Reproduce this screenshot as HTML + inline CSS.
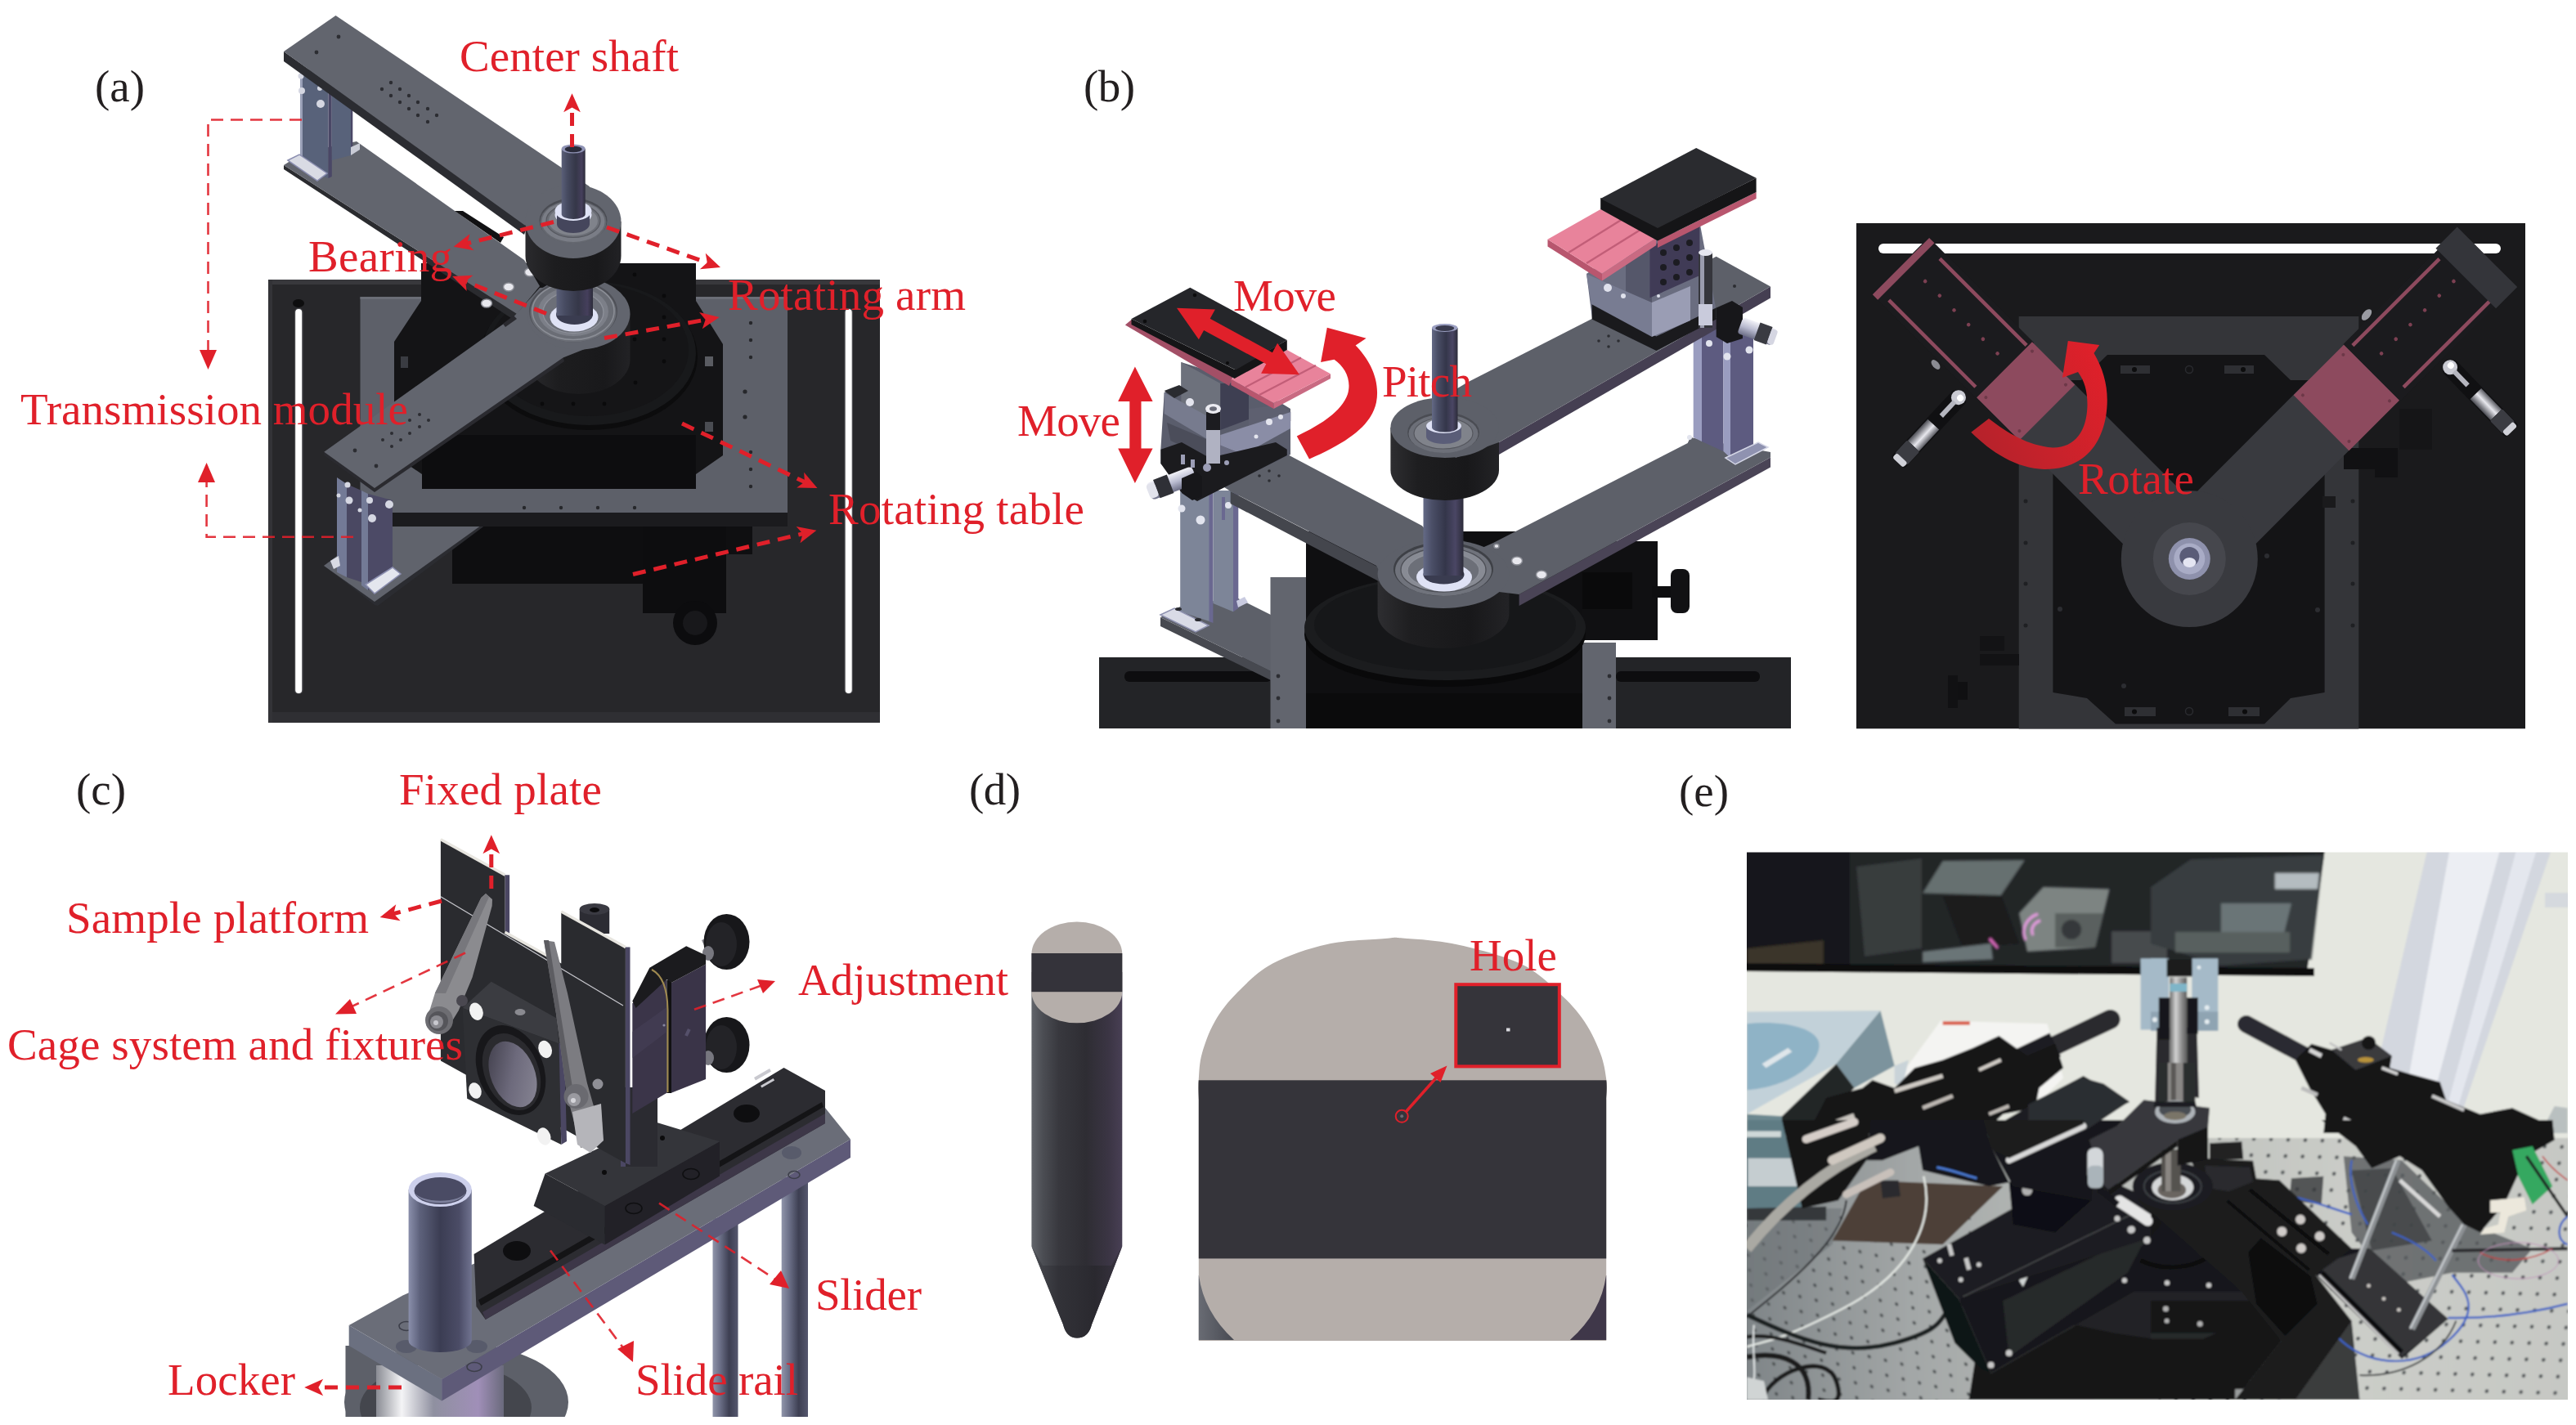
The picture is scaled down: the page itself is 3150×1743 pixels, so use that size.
<!DOCTYPE html>
<html><head><meta charset="utf-8"><title>Figure</title>
<style>
html,body{margin:0;padding:0;background:#fff;}
body{width:3150px;height:1743px;overflow:hidden;position:relative;font-family:"Liberation Serif",serif;}
svg{position:absolute;left:0;top:0;display:block}
text{font-family:"Liberation Serif",serif;}
</style></head><body>
<svg width="3150" height="1743" viewBox="0 0 3150 1743">
<defs>
<marker id="ah" viewBox="0 0 10 10" refX="4" refY="5" markerWidth="6" markerHeight="4.6" orient="auto-start-reverse"><path d="M0,0.5 L10,5 L0,9.5 L2.5,5 z" fill="#e0202a"/></marker>
</defs>
<!-- a -->
<defs>
<linearGradient id="shaftA" x1="0" x2="1" y1="0" y2="0"><stop offset="0" stop-color="#5a5f78"/><stop offset="0.25" stop-color="#464a60"/><stop offset="0.6" stop-color="#353748"/><stop offset="0.85" stop-color="#453f5c"/><stop offset="1" stop-color="#2c2c3a"/></linearGradient>
<linearGradient id="cylA" x1="0" x2="1" y1="0" y2="0"><stop offset="0" stop-color="#2a2a2d"/><stop offset="0.3" stop-color="#1d1d1f"/><stop offset="0.75" stop-color="#19191b"/><stop offset="1" stop-color="#222225"/></linearGradient>
</defs>
<g id="panelA">
<!-- base plate -->
<rect x="328" y="342" width="748" height="542" fill="#27272a"/>
<rect x="328" y="342" width="748" height="6" fill="#38383c"/>
<rect x="328" y="871" width="748" height="13" fill="#2f2f33"/>
<rect x="328" y="342" width="5" height="542" fill="#333337"/>
<rect x="360" y="377" width="10.5" height="472" rx="5" fill="#4a4a4e"/><rect x="361.2" y="378" width="8" height="470" rx="4" fill="#ffffff"/>
<rect x="1032.5" y="377" width="10.5" height="472" rx="5" fill="#4a4a4e"/><rect x="1033.7" y="378" width="8" height="470" rx="4" fill="#ffffff"/>
<ellipse cx="365" cy="371" rx="7" ry="5" fill="#0d0d0e"/>
<!-- lower black box under mid plate -->
<rect x="553" y="640" width="234" height="74" fill="#0e0e10"/>
<rect x="786" y="640" width="134" height="38" fill="#0f0f11"/>
<rect x="786" y="640" width="102" height="110" fill="#0d0d0f"/>
<circle cx="850" cy="762" r="27" fill="#0c0c0e"/>
<circle cx="850" cy="762" r="15" fill="#18181b"/>
<!-- foot plate of lower-left arm (lower plate) -->
<polygon points="396,692 412,680 480,640 594,642 462,741 458,740" fill="#2b2c31"/>
<polygon points="396,692 412,680 480,640 592,640 458,736" fill="#60636c"/>
<!-- mid grey plate -->
<rect x="440.5" y="363" width="522.5" height="266" fill="#5d6069"/>
<rect x="480" y="627" width="483" height="17" fill="#1b1b1e"/>
<rect x="440.5" y="363" width="522.5" height="3" fill="#6b6e77"/>
<g fill="#26272b">
<circle cx="918" cy="395" r="2.2"/><circle cx="918" cy="416" r="2.2"/><circle cx="918" cy="437" r="2.2"/>
<circle cx="911" cy="479" r="2.6"/><circle cx="911" cy="510" r="2.6"/><circle cx="918" cy="553" r="2.2"/><circle cx="918" cy="574" r="2.2"/><circle cx="918" cy="595" r="2.2"/>
<circle cx="641" cy="621" r="2.2"/><circle cx="686" cy="621" r="2.2"/><circle cx="731" cy="621" r="2.2"/><circle cx="776" cy="621" r="2.2"/>
</g>
<!-- black stage body -->
<polygon points="515,322 851,322 851,368 884,421 884,557 851,580 851,598 516,598 516,580 482,557 482,418 515,368" fill="#141416"/>
<polygon points="516,532 851,532 851,598 516,598" fill="#0d0d0f"/>
<rect x="862" y="436" width="10" height="12" fill="#5a5c62"/><rect x="862" y="516" width="10" height="12" fill="#4a4c52"/>
<rect x="490" y="436" width="9" height="14" fill="#3a3c42"/>
<!-- rotating disk -->
<ellipse cx="720" cy="436" rx="133" ry="90" fill="#0c0c0d"/>
<ellipse cx="720" cy="432" rx="131" ry="88" fill="#18191b"/>
<ellipse cx="720" cy="428" rx="122" ry="81" fill="#151517"/>
<g fill="#0a0a0b">
<circle cx="663" cy="494" r="2.4"/><circle cx="701" cy="494" r="2.4"/><circle cx="739" cy="494" r="2.4"/><circle cx="777" cy="468" r="2.4"/><circle cx="812" cy="442" r="2.4"/>
<circle cx="701" cy="474" r="2.4"/><circle cx="763" cy="456" r="2.4"/><circle cx="812" cy="415" r="2.4"/><circle cx="776" cy="415" r="2.4"/>
<circle cx="812" cy="362" r="2.4"/><circle cx="776" cy="336" r="2.4"/><circle cx="812" cy="388" r="2.4"/>
</g>
<!-- lower hub housing cylinder -->
<path d="M644.5,384 L644.5,440 A63,42 0 0 0 770.5,440 L770.5,384 z" fill="url(#cylA)"/>
<!-- upper-left arm lower plate -->
<polygon points="347,202 347,207 628,391 632,384" fill="#2a2b2f"/>
<polygon points="347,202 372,186 436,173 641,318 660,350 632,384" fill="#62656e"/>
<!-- black peeking bit -->
<polygon points="556,258 566,258 616,290 612,297" fill="#111113"/>
<!-- lower-left arm -->
<polygon points="396.3,552.7 396.3,557 458,602 690,442 688.5,437" fill="#2a2a2f"/>
<polygon points="396.3,552.7 458,597 688.5,437.4 720,425 760,400 720,350 660,352 628.5,387" fill="#62656e"/>
<ellipse cx="707.5" cy="383.7" rx="63" ry="44" fill="#62656e"/>
<polygon points="615,396 628,386 632,390 618,400" fill="#2a2a2f"/>
<g fill="#2c2d32">
<circle cx="434" cy="551" r="2.4"/><circle cx="460" cy="570" r="2.4"/><circle cx="479" cy="530" r="2"/><circle cx="468" cy="538" r="2"/><circle cx="479" cy="546" r="2"/><circle cx="490" cy="538" r="2"/><circle cx="501" cy="530" r="2"/><circle cx="513" cy="522" r="2"/><circle cx="501" cy="514" r="2"/><circle cx="513" cy="507" r="2"/><circle cx="524" cy="514" r="2"/>
</g>
<g fill="#e8e8ee" stroke="#8a8c94" stroke-width="1.5">
<ellipse cx="595" cy="371" rx="6.5" ry="5"/><ellipse cx="622" cy="351" rx="6.5" ry="5"/><ellipse cx="648" cy="333" rx="6.5" ry="5"/>
</g>
<!-- lower bearing -->
<ellipse cx="701" cy="380.5" rx="54" ry="38" fill="#4e5057"/><ellipse cx="701" cy="382" rx="52.5" ry="36.5" fill="#6a6d75"/>
<ellipse cx="701" cy="380.5" rx="50" ry="35" fill="none" stroke="#8a8d95" stroke-width="1.6"/>
<ellipse cx="701" cy="381" rx="43" ry="30" fill="#7c7f88"/>
<ellipse cx="701" cy="382" rx="37" ry="25.5" fill="#6c6f78" stroke="#8d9099" stroke-width="1.4"/>
<ellipse cx="702" cy="388" rx="29.5" ry="17.5" fill="#dfe2f5"/>
<ellipse cx="702.5" cy="385" rx="22.5" ry="12" fill="#3a3c50"/>
<!-- lower shaft -->
<rect x="680.5" y="340" width="44.5" height="46" fill="url(#shaftA)"/>
<!-- upper hub cylinder -->
<path d="M642.5,271 L642.5,313 A58.5,43 0 0 0 759.5,313 L759.5,271 z" fill="url(#cylA)"/>
<!-- posts upper-left -->
<polygon points="367,85 370,85 370,208 367,206" fill="#9aa0b8"/>
<polygon points="370,85 401.5,85 401.5,218 370,208" fill="#58627a"/>
<polygon points="401.5,85 405.8,85 405.8,216 401.5,218" fill="#4a4766"/>
<polygon points="405.8,85 429,85 429,190 405.8,196" fill="#58627a"/>
<polygon points="429,85 431.3,85 431.3,188 429,190" fill="#4a4766"/>
<polygon points="352,196 366,189 400,212 388,221" fill="#d9dbe4" stroke="#8b8eb0" stroke-width="1.5"/>
<polygon points="429,180 440,175 440,183 429,190" fill="#c9cbd6"/>
<g fill="#d5d7e2"><circle cx="368" cy="93" r="3.5"/><circle cx="369" cy="111" r="4"/><circle cx="391" cy="108" r="3"/><circle cx="392" cy="127" r="5"/></g>
<!-- upper plate -->
<polygon points="347,63 347,75 641,287 645,275" fill="#2b2c31"/>
<polygon points="410.5,19 347,63 641,275 700,300 740,250 720,227.5" fill="#62656e"/>
<ellipse cx="701" cy="271" rx="58.5" ry="45" fill="#62656e"/>
<g fill="#2c2d32">
<circle cx="387" cy="64" r="2.4"/><circle cx="414" cy="45" r="2.4"/>
<circle cx="478" cy="101" r="2.2"/><circle cx="467" cy="109" r="2.2"/><circle cx="478" cy="117" r="2.2"/><circle cx="489" cy="109" r="2.2"/><circle cx="489" cy="125" r="2.2"/><circle cx="500" cy="117" r="2.2"/><circle cx="500" cy="133" r="2.2"/><circle cx="511" cy="125" r="2.2"/><circle cx="511" cy="141" r="2.2"/><circle cx="523" cy="133" r="2.2"/><circle cx="523" cy="149" r="2.2"/><circle cx="534" cy="141" r="2.2"/>
</g>
<!-- upper bearing -->
<ellipse cx="701" cy="270" rx="41.5" ry="27.5" fill="#4a4c53"/><ellipse cx="701" cy="271.5" rx="40.5" ry="26.5" fill="#64676f"/>
<ellipse cx="701" cy="271" rx="38.5" ry="25" fill="#7a7d86"/>
<ellipse cx="701" cy="270" rx="33" ry="20.5" fill="#6a6d75" stroke="#55575e" stroke-width="1.2"/>
<ellipse cx="701" cy="270" rx="30" ry="18" fill="#80838b"/>
<ellipse cx="701" cy="263" rx="22.5" ry="12" fill="#dfe2f5"/>
<ellipse cx="701" cy="272" rx="20" ry="11" fill="#484a60"/>
<ellipse cx="701" cy="260" rx="16" ry="8.5" fill="#dfe2f5"/>
<path d="M681,262 L681,274 A20,11 0 0 0 721,274 L721,262 z" fill="#45465c"/>
<ellipse cx="701" cy="258" rx="22.5" ry="12" fill="#dfe2f5"/>
<!-- upper shaft -->
<path d="M686.7,182 L686.7,262 A14.5,6 0 0 0 715.7,262 L715.7,182 z" fill="url(#shaftA)"/>
<ellipse cx="701.2" cy="182" rx="14.5" ry="5.5" fill="#8f93b5"/>
<ellipse cx="701.2" cy="182.5" rx="10.5" ry="3.8" fill="#2a2b3a"/>
<!-- posts lower-left -->
<polygon points="412,584 424,592 424,706 412,700" fill="#737a96"/>
<polygon points="424,592 442,600 442,712 424,706" fill="#4a4862"/>
<polygon points="442,600 450,604 450,722 442,716" fill="#737a96"/>
<polygon points="450,604 480,612 480,700 450,722" fill="#4c4a66"/>
<polygon points="447,715 480,694 490,702 458,726" fill="#e4e6ee" stroke="#8b8eb0" stroke-width="1.5"/>
<polygon points="404,686 414,680 416,692 408,696" fill="#d9dbe4"/>
<g fill="#d5d7e2"><circle cx="425" cy="593" r="3.5"/><circle cx="427" cy="612" r="4.5"/><circle cx="452" cy="612" r="4"/><circle cx="455" cy="634" r="5"/><circle cx="476" cy="617" r="5"/><circle cx="414" cy="606" r="2.5"/><circle cx="440" cy="624" r="2.5"/></g>
</g>

<!-- b1 -->
<defs>
<linearGradient id="shaftB" x1="0" x2="1" y1="0" y2="0"><stop offset="0" stop-color="#646a86"/><stop offset="0.22" stop-color="#4a4e66"/><stop offset="0.55" stop-color="#34364a"/><stop offset="0.8" stop-color="#4a4664"/><stop offset="1" stop-color="#2c2c3a"/></linearGradient>
<linearGradient id="cylB" x1="0" x2="1" y1="0" y2="0"><stop offset="0" stop-color="#2e2e31"/><stop offset="0.25" stop-color="#1e1e20"/><stop offset="0.7" stop-color="#18181a"/><stop offset="1" stop-color="#232326"/></linearGradient>
<linearGradient id="micro" x1="0" x2="0" y1="0" y2="1"><stop offset="0" stop-color="#f2f2f8"/><stop offset="0.5" stop-color="#b9bbd0"/><stop offset="1" stop-color="#6c6e86"/></linearGradient>
</defs>
<g id="panelB1">
<!-- base -->
<rect x="1344" y="804" width="846" height="87" fill="#232427"/>
<rect x="1375" y="821" width="180" height="13" rx="6" fill="#0d0d0f"/>
<rect x="1976" y="821" width="176" height="13" rx="6" fill="#0d0d0f"/>
<!-- left foot plate -->
<polygon points="1419,755 1419,766 1554,832 1554,821" fill="#474950"/>
<polygon points="1419,755 1445,741 1512,731 1554,752 1554,821" fill="#5d6069"/>
<!-- black right extension & knob -->
<rect x="1934" y="662" width="93" height="121" fill="#101012"/>
<rect x="1930" y="700" width="66" height="45" fill="#0a0a0b"/>
<rect x="2020" y="717" width="26" height="14" fill="#0e0e10"/>
<rect x="2043" y="696" width="23" height="54" rx="8" fill="#111113"/>
<!-- grey plate sides -->
<rect x="1553.5" y="706" width="44" height="185" fill="#62656e"/>
<rect x="1934.5" y="786" width="41.5" height="105" fill="#62656e"/>
<g fill="#2c2d32"><circle cx="1563" cy="827" r="2.4"/><circle cx="1563" cy="854" r="2.4"/><circle cx="1563" cy="882" r="2.4"/><circle cx="1968" cy="827" r="2.4"/><circle cx="1968" cy="854" r="2.4"/><circle cx="1968" cy="882" r="2.4"/></g>
<!-- black stage body -->
<rect x="1597" y="650" width="338" height="241" fill="#0f0f11"/>
<rect x="1597" y="848" width="338" height="43" fill="#0b0b0c"/>
<!-- rotating disk -->
<ellipse cx="1767" cy="776" rx="172" ry="64" fill="#09090a"/>
<ellipse cx="1767" cy="768" rx="172" ry="64" fill="#1b1c1e"/>
<ellipse cx="1767" cy="764" rx="160" ry="57" fill="#161719"/>
<!-- lower hub cylinder -->
<path d="M1684.6,702 L1684.6,751 A80.4,42 0 0 0 1845.4,751 L1845.4,702 z" fill="url(#cylB)"/>
<!-- left posts -->
<polygon points="1443.2,600 1480.3,600 1480.3,760.6 1443.2,748" fill="#7d8598"/>
<polygon points="1478.5,600 1483.4,600 1483.4,762 1478.5,760" fill="#6a6890"/>
<polygon points="1483.4,600 1508,600 1508,748.3 1483.4,738" fill="#7d8598"/>
<polygon points="1508,600 1514.3,600 1514.3,744 1508,748.3" fill="#6a6890"/>
<polygon points="1494,608 1498,608 1498,636 1494,636" fill="#6a6890"/>
<polygon points="1419,752 1436,744 1478,765 1462,773" fill="#d9dbe6" stroke="#8f92b0" stroke-width="1.5"/>
<polygon points="1512,735 1522,730 1526,737 1514,743" fill="#c9cbe0"/>
<g fill="#e2e4ee"><circle cx="1445" cy="622" r="4.5"/><circle cx="1468" cy="636" r="5.5"/><circle cx="1502" cy="618" r="4"/></g>
<g fill="#2a2b30"><ellipse cx="1441" cy="745" rx="4" ry="2"/><ellipse cx="1465" cy="758" rx="4" ry="2"/></g>
<!-- left arm lower level -->
<polygon points="1504.7,601 1504.7,616 1686,711 1686,694" fill="#44464d"/>
<polygon points="1494,594 1574.6,556 1738.8,643 1790,700 1700,720 1683,692 1504.7,601" fill="#5d6069"/>
<g fill="#2c2d32"><circle cx="1540" cy="582" r="1.8"/><circle cx="1552" cy="576" r="1.8"/><circle cx="1552" cy="588" r="1.8"/><circle cx="1564" cy="582" r="1.8"/></g>
<!-- right arm lower level -->
<polygon points="1857.6,727 1857.6,741 2165,571.6 2165,559.4" fill="#4a4456"/>
<polygon points="1826,664 2063.7,542 2067,535 2165,553 2165,559.4 1857.6,727 1800,720 1790,680" fill="#5d6069"/>
<!-- hub top -->
<ellipse cx="1765" cy="702" rx="80.4" ry="42" fill="#5d6069"/>
<g fill="#e8e8ee" stroke="#8a8c94" stroke-width="1.5"><ellipse cx="1830" cy="668" rx="3" ry="2.5"/><ellipse cx="1855" cy="686" rx="6.5" ry="5"/><ellipse cx="1885" cy="703" rx="6.5" ry="5"/></g>
<!-- lower bearing -->
<ellipse cx="1765" cy="696" rx="61" ry="33" fill="#3e4046"/>
<ellipse cx="1765" cy="697.5" rx="59" ry="31.5" fill="#70737c"/>
<ellipse cx="1765" cy="697" rx="52" ry="27" fill="#888b94" stroke="#4d4f56" stroke-width="1.3"/>
<ellipse cx="1765" cy="698" rx="44" ry="22" fill="#6c6f78" stroke="#8d9099" stroke-width="1.3"/>
<ellipse cx="1766" cy="706" rx="34" ry="17.5" fill="#dfe2f5"/>
<ellipse cx="1765.5" cy="703" rx="25" ry="11.5" fill="#3a3c50"/>
<!-- mid shaft -->
<rect x="1740.5" y="600" width="49" height="104" fill="url(#shaftB)"/>
<!-- upper hub cylinder -->
<path d="M1700.4,523 L1700.4,575 A66.3,37 0 0 0 1833,575 L1833,523 z" fill="url(#cylB)"/>
<!-- right posts -->
<polygon points="2070.7,400 2081,400 2081,540 2070.7,535" fill="#9a9dc0"/>
<polygon points="2081,400 2107.4,400 2107.4,552 2081,540" fill="#5d5b80"/>
<polygon points="2107.4,400 2116,400 2116,560 2107.4,552" fill="#9a9dc0"/>
<polygon points="2116,400 2144,400 2144,552 2116,566" fill="#5d5b80"/>
<polygon points="2110,560 2150,541 2162,547 2122,568" fill="#8f92b0" stroke="#d5d7e6" stroke-width="1.5"/>
<g fill="#e2e4ee"><circle cx="2090" cy="420" r="4"/><circle cx="2112" cy="436" r="4.5"/><circle cx="2139" cy="428" r="4.5"/><circle cx="2066" cy="535" r="3"/></g>
<!-- right arm upper level -->
<polygon points="1833,541 1833,556 2165,364.4 2165,350.4" fill="#453f52"/>
<polygon points="1794.7,467.5 1948.5,389 2098.7,313.7 2165,350.4 1833,541 1780,560 1740,500" fill="#5d6069"/>
<ellipse cx="1766.7" cy="523" rx="66.3" ry="37" fill="#5d6069"/>
<g fill="#2c2d32"><circle cx="1955" cy="417" r="1.8"/><circle cx="1967" cy="411" r="1.8"/><circle cx="1967" cy="424" r="1.8"/><circle cx="1979" cy="417" r="1.8"/><circle cx="2121" cy="350" r="2"/></g>
<!-- upper bearing -->
<ellipse cx="1765" cy="529" rx="44" ry="24.5" fill="#4a4c53"/>
<ellipse cx="1765" cy="530.5" rx="42.5" ry="23.5" fill="#6c6f78"/>
<ellipse cx="1765" cy="530" rx="36" ry="19" fill="#80838b" stroke="#55575e" stroke-width="1.2"/>
<path d="M1744,520 L1744,534 A21.5,9 0 0 0 1787,534 L1787,520 z" fill="#5a5d78"/>
<ellipse cx="1765.5" cy="521" rx="21.5" ry="9" fill="#dfe2f5"/>
<!-- upper shaft -->
<path d="M1751,401 L1751,523 A15.7,5.5 0 0 0 1782.5,523 L1782.5,401 z" fill="url(#shaftB)"/>
<ellipse cx="1766.7" cy="401" rx="15.7" ry="5" fill="#9ca0c2"/>
<ellipse cx="1766.7" cy="401.5" rx="11.5" ry="3.4" fill="#3a3b4e"/>
<!-- RIGHT STACK -->
<polygon points="1940,335 1990,300 2079,275 2098,376 2025,429 1947,390" fill="#6a6d80"/>
<polygon points="1946.7,369.6 2025.3,411.6 2098.7,376.6 2098.7,390.6 2025.3,429 1946.7,390.6" fill="#1a1a1d"/>
<polygon points="1940,335 2020,370 2020,412 1946,372" fill="#787c92"/>
<polygon points="2020,370 2067,350 2067,392 2020,412" fill="#9a9db4"/>
<polygon points="1940,335 1990,318 2020,330 2020,370" fill="#6a6d80"/>
<polygon points="1988,300 2020,300 2020,370 1988,356" fill="#55576a"/>
<polygon points="2017.5,301.4 2078.4,276 2078.4,337 2017.5,364.3" fill="#403b56"/>
<g fill="#1c1c22"><circle cx="2034" cy="309" r="4"/><circle cx="2050" cy="303" r="4"/><circle cx="2066" cy="297" r="4"/><circle cx="2034" cy="327" r="4"/><circle cx="2050" cy="321" r="4"/><circle cx="2066" cy="315" r="4"/><circle cx="2034" cy="345" r="4"/><circle cx="2050" cy="339" r="4"/><circle cx="2066" cy="333" r="4"/></g>
<g fill="#dfe1ec"><circle cx="1966" cy="352" r="5"/><circle cx="1985" cy="362" r="3"/><circle cx="2028" cy="362" r="2"/></g>
<!-- vertical micrometer -->
<rect x="2077" y="309" width="17" height="92" fill="#35363c"/>
<rect x="2079" y="309" width="5" height="92" fill="#9a9cae"/>
<ellipse cx="2085.5" cy="309" rx="8.5" ry="4" fill="#e6e7f0"/>
<rect x="2077" y="372" width="17" height="26" fill="#c9cbdc"/>
<!-- horizontal micrometer -->
<polygon points="2098.7,376.6 2118,368 2131,376 2131,414 2112,420 2098.7,412" fill="#17171a"/>
<g transform="rotate(20 2130 398)"><rect x="2128" y="388" width="44" height="21" rx="4" fill="url(#micro)"/><rect x="2150" y="387" width="16" height="23" fill="#3a3b42"/><rect x="2166" y="389" width="8" height="19" rx="3" fill="#d5d6e2"/></g>
<!-- pink -->
<polygon points="1892.5,292.8 1959,334.7 1959,343.5 1892.5,301.5" fill="#b8566e"/>
<polygon points="1959,334.7 2025.3,291 2025.3,300 1959,343.5" fill="#c96a82"/>
<polygon points="1957.2,256 2025.3,291 1959,334.7 1892.5,292.8" fill="#e8839b"/>
<path d="M1918,309 L1984,268 M1940,322 L2006,281" stroke="#c25e78" stroke-width="2.4" fill="none"/>
<polygon points="2027,294.5 2147.6,235 2147.6,243 2027,303" fill="#b8566e"/>
<!-- black platform right -->
<polygon points="1957.2,242 1957.2,256 2027,294.5 2147.6,235 2147.6,217.7 2027,278" fill="#151517"/>
<polygon points="2074.2,181 2147.6,217.7 2027,279 1957.2,243" fill="#2a2b2f"/>
<!-- LEFT STACK -->
<polygon points="1444.4,443 1527,469 1578,500 1578,556 1464,612 1419.4,567 1419.4,549 1423.7,480 1444.4,472" fill="#5a5d6c"/>
<polygon points="1444.4,443 1492.3,469 1492.3,526 1444.4,504" fill="#6d717c"/>
<polygon points="1492.3,469 1527,469 1527,513 1492.3,526" fill="#3e3f52"/>
<polygon points="1423.7,480 1479.2,510.5 1479.2,539 1423.7,506" fill="#777b8e"/>
<polygon points="1423.7,478 1442,471 1453,478 1436,487" fill="#2a2b30"/>
<polygon points="1527,500 1566,495 1578.2,504 1578.2,515 1527,526" fill="#5e6070"/>
<polygon points="1492.3,532 1578.2,504 1578.2,524 1520.5,556 1492.3,545" fill="#8a8da6"/>
<polygon points="1427,517 1479.2,539 1479.2,561 1431.4,539" fill="#4b4d5a"/>
<polygon points="1479,539 1520,556 1520,566 1479,561" fill="#6a6c80"/>
<g fill="#e4e5ee"><circle cx="1455" cy="492" r="5"/><circle cx="1552" cy="516" r="4"/><circle cx="1566" cy="510" r="3"/><circle cx="1536" cy="534" r="2.5"/></g>
<!-- black bracket -->
<polygon points="1419.4,549.7 1445,541 1479,560 1530,548 1560,541 1573.8,549.7 1573.8,557 1464,613 1444.4,602 1419.4,567" fill="#1b1b1e"/>
<g fill="#9c9eb6"><rect x="1444" y="556" width="5" height="12"/><rect x="1456" y="562" width="5" height="10"/><circle cx="1476" cy="572" r="5"/><circle cx="1500" cy="566" r="3"/></g>
<!-- cap screw -->
<rect x="1475" y="500" width="17" height="67" fill="#b0b2c2"/>
<rect x="1475" y="504" width="17" height="22" fill="#1c1c20"/>
<ellipse cx="1483.5" cy="500" rx="9.5" ry="6" fill="#ececf2"/>
<ellipse cx="1483.5" cy="500" rx="4.5" ry="2.8" fill="#6a6c78"/>
<!-- left micrometer -->
<g transform="rotate(-21 1433 591)"><rect x="1403" y="580" width="60" height="22" rx="5" fill="url(#micro)"/><rect x="1413" y="579" width="18" height="24" fill="#2f3036"/><rect x="1402" y="582" width="11" height="18" rx="4" fill="#e2e3ec"/></g>
<polygon points="1445,585 1463,577 1470,583 1470,607 1458,612 1445,603" fill="#17171a"/>
<!-- pink left -->
<polygon points="1375.9,397.4 1383.5,391 1509.7,456 1503,472" fill="#a34f66"/>
<polygon points="1505.3,463.8 1557.5,493 1557.5,500 1505.3,471" fill="#b8566e"/>
<polygon points="1557.5,493 1627,457.2 1627,463 1557.5,500" fill="#c96a82"/>
<polygon points="1573.8,427.9 1627,457.2 1557.5,493 1505.3,463.8" fill="#e8839b"/>
<path d="M1523,473.5 L1591,437.5 M1540,483 L1609,447" stroke="#c25e78" stroke-width="2.2" fill="none"/>
<!-- black platform left -->
<polygon points="1383.5,390 1383.5,397 1509.7,463 1573.8,428 1573.8,416 1509.7,452" fill="#151517"/>
<polygon points="1455.3,351.8 1573.8,416 1511,452.5 1383.5,390" fill="#25262a"/>
<g fill="#0c0c0d"><circle cx="1461" cy="361" r="2.3"/><circle cx="1400" cy="393" r="2.3"/><circle cx="1501" cy="444" r="2"/></g>
<!-- fat red arrows -->
<g fill="#e0202a">
<polygon points="1439,376.8 1465.9,415.3 1472.1,403.9 1548.3,445.3 1542.1,456.7 1589,458.3 1562.1,419.8 1555.9,431.2 1479.7,389.8 1485.9,378.4"/>
<polygon points="1387.9,448.5 1367.2,491 1381.3,491 1381.3,548.6 1367.2,548.6 1387.9,591 1409.6,548.6 1395.5,548.6 1395.5,491 1409.6,491"/>
<path d="M1585.8,533.4 C1610,522 1640,505 1648,482 C1653,465 1645,449 1631.5,439.8 L1615.1,443.1 L1622.8,400.7 L1670.6,413.7 L1657.6,422.5 C1675,440 1688,465 1683,492 C1677,520 1650,540 1601,561.6 z"/>
</g>
</g>

<!-- b2 -->
<defs>
<linearGradient id="rotg" x1="2410" y1="530" x2="2575" y2="440" gradientUnits="userSpaceOnUse"><stop offset="0" stop-color="#b5222b"/><stop offset="0.45" stop-color="#c9222b"/><stop offset="1" stop-color="#e0202a"/></linearGradient>
<linearGradient id="mic2" x1="0" x2="0" y1="0" y2="1"><stop offset="0" stop-color="#5a5b62"/><stop offset="0.45" stop-color="#e8e8ee"/><stop offset="1" stop-color="#4a4b52"/></linearGradient>
<clipPath id="clipB2"><rect x="2270" y="273" width="818" height="618.5"/></clipPath>
</defs>
<g id="panelB2" clip-path="url(#clipB2)">
<rect x="2270" y="273" width="818" height="618.5" fill="#1a1a1c"/>
<rect x="2297" y="298" width="761" height="12" rx="6" fill="#ffffff"/>
<!-- grey plate -->
<rect x="2468.7" y="387" width="415.6" height="506" fill="#343539"/>
<!-- inner black octagon -->
<polygon points="2577,434 2769,434 2801,465 2842.6,465 2842.6,847 2801,854 2769,885.5 2587,885.5 2552,854 2510.4,847 2510.4,465 2545,465" fill="#141416"/>
<g fill="#2e2f33"><rect x="2593" y="447" width="36" height="10"/><rect x="2720" y="447" width="36" height="10"/><rect x="2598" y="865" width="38" height="11"/><rect x="2725" y="865" width="38" height="11"/></g>
<g fill="#0c0c0d"><circle cx="2610" cy="452" r="3"/><circle cx="2743" cy="452" r="3"/><circle cx="2610" cy="870.5" r="3"/><circle cx="2745" cy="870.5" r="3"/></g>
<circle cx="2677" cy="452" r="4.5" fill="none" stroke="#2a2b2f" stroke-width="1.5"/><circle cx="2677" cy="870" r="4.5" fill="none" stroke="#2a2b2f" stroke-width="1.5"/>
<g fill="#1f2023"><circle cx="2477" cy="613" r="2.5"/><circle cx="2477" cy="664" r="2.5"/><circle cx="2477" cy="714" r="2.5"/><circle cx="2477" cy="765" r="2.5"/><circle cx="2877" cy="613" r="2.5"/><circle cx="2877" cy="664" r="2.5"/><circle cx="2877" cy="714" r="2.5"/><circle cx="2877" cy="765" r="2.5"/></g>
<g fill="#2c2d31"><circle cx="2519" cy="745" r="3"/><circle cx="2834" cy="746" r="3"/><circle cx="2772" cy="680" r="3"/><circle cx="2597" cy="839" r="3"/></g>
<!-- small dark bits -->
<rect x="2421" y="778" width="30" height="18" fill="#131315"/><rect x="2421" y="800" width="48" height="14" fill="#121214"/><rect x="2382" y="826" width="12" height="40" fill="#111113"/><rect x="2394" y="834" width="12" height="22" fill="#101012"/>
<rect x="2866" y="548" width="66" height="26" fill="#111113"/><rect x="2904" y="574" width="28" height="10" fill="#111113"/>
<rect x="2934" y="500" width="40" height="50" fill="#151517"/>
<rect x="2840" y="607" width="16" height="14" fill="#1a1a1c"/>
<!-- arms -->
<polygon points="2643.3,712.5 2313,382 2381,314 2677.3,610.5 2973,314 3041,382 2711.3,712.5" fill="#393a3f"/>
<circle cx="2677.3" cy="683.5" r="83.5" fill="#393a3f"/>
<circle cx="2677.3" cy="683.5" r="44.5" fill="#46474d"/>
<circle cx="2677.3" cy="683.5" r="25.5" fill="#8e91ac"/>
<circle cx="2677.3" cy="683.5" r="19" fill="#a9acc6"/>
<circle cx="2677.3" cy="681" r="12" fill="#5a5c78"/>
<ellipse cx="2677.3" cy="688" rx="8" ry="6" fill="#e4e5f2"/>
<!-- left stage (black with pink) -->
<g transform="translate(2677.3 678.5) rotate(-135)">
 <rect x="318" y="-49" width="182" height="98" fill="#1b1b1e"/>
 <rect x="246" y="-48" width="74" height="96" fill="#8d4a5e"/>
 <rect x="330" y="-42" width="150" height="4.5" fill="#8d4a5e"/>
 <rect x="322" y="38" width="150" height="4.5" fill="#8d4a5e"/>
 <rect x="490" y="-49" width="9" height="98" fill="#8d4a5e"/>
 <g fill="#7c4052"><circle cx="340" cy="8" r="2.3"/><circle cx="365" cy="8" r="2.3"/><circle cx="390" cy="8" r="2.3"/><circle cx="415" cy="8" r="2.3"/><circle cx="440" cy="8" r="2.3"/><circle cx="465" cy="8" r="2.3"/></g>
 <g fill="#6d3848"><circle cx="254" cy="-40" r="2"/><circle cx="312" cy="-40" r="2"/><circle cx="254" cy="40" r="2"/><circle cx="312" cy="40" r="2"/></g>
</g>
<!-- right stage -->
<g transform="translate(2677.3 678.5) rotate(-45)">
 <rect x="315" y="-49" width="200" height="98" fill="#1b1b1e"/>
 <rect x="228" y="-48" width="87" height="96" fill="#8d4a5e"/>
 <rect x="322" y="-42" width="150" height="4.5" fill="#8d4a5e"/>
 <rect x="330" y="38" width="150" height="4.5" fill="#8d4a5e"/>
 <rect x="478" y="-52" width="37" height="104" fill="#34353a"/>
 <g fill="#7c4052"><circle cx="340" cy="-8" r="2.3"/><circle cx="365" cy="-8" r="2.3"/><circle cx="390" cy="-8" r="2.3"/><circle cx="415" cy="-8" r="2.3"/><circle cx="440" cy="-8" r="2.3"/><circle cx="465" cy="-8" r="2.3"/></g>
 <g fill="#6d3848"><circle cx="236" cy="-40" r="2"/><circle cx="306" cy="-40" r="2"/><circle cx="236" cy="40" r="2"/><circle cx="306" cy="40" r="2"/></g>
</g>
<!-- micrometers -->
<g transform="translate(2397 484) rotate(133)">
 <rect x="0" y="-11" width="112" height="22" rx="3" fill="#101012"/>
 <circle cx="3" cy="0" r="9" fill="#c9cad2"/><circle cx="2" cy="-2" r="4" fill="#ffffff"/>
 <rect x="10" y="-3" width="24" height="6" fill="#b5b6bf"/>
 <rect x="48" y="-9.5" width="36" height="19" fill="url(#mic2)"/>
 <rect x="84" y="-10.5" width="22" height="21" rx="2" fill="#3b3c42"/>
 <rect x="104" y="-9" width="8" height="18" rx="3" fill="#d0d1d8"/>
</g>
<g transform="translate(2994 447) rotate(46)">
 <rect x="0" y="-11" width="112" height="22" rx="3" fill="#101012"/>
 <circle cx="3" cy="0" r="9" fill="#c9cad2"/><circle cx="2" cy="-2" r="4" fill="#ffffff"/>
 <rect x="10" y="-3" width="24" height="6" fill="#b5b6bf"/>
 <rect x="48" y="-9.5" width="36" height="19" fill="url(#mic2)"/>
 <rect x="84" y="-10.5" width="22" height="21" rx="2" fill="#3b3c42"/>
 <rect x="104" y="-9" width="8" height="18" rx="3" fill="#d0d1d8"/>
</g>
<ellipse cx="2367" cy="446" rx="4" ry="7" transform="rotate(-40 2367 446)" fill="#8a8b92"/>
<ellipse cx="2894" cy="385" rx="4.5" ry="8" transform="rotate(40 2894 385)" fill="#9a9ba2"/>
<!-- rotate arrow -->
<path d="M2432,512 C2455,530 2480,545 2510,547.5 C2535,548 2552,530 2552.5,495 C2552.5,478 2549,466 2541,455 L2522,462 L2528.8,416.9 L2567.2,422 L2560.5,432 C2574,455 2580,480 2575,510 C2568,548 2545,574 2500,574 C2465,573 2435,553 2410.3,528.8 z" fill="url(#rotg)"/>
</g>

<!-- c -->
<defs>
<linearGradient id="tubeC" x1="0" x2="1" y1="0" y2="0"><stop offset="0" stop-color="#8a8fab"/><stop offset="0.18" stop-color="#5d617b"/><stop offset="0.5" stop-color="#3b3d53"/><stop offset="0.8" stop-color="#4b4c66"/><stop offset="1" stop-color="#707390"/></linearGradient>
<linearGradient id="rodC" x1="0" x2="1" y1="0" y2="0"><stop offset="0" stop-color="#9095aa"/><stop offset="0.3" stop-color="#6a6e86"/><stop offset="0.65" stop-color="#3d3f52"/><stop offset="1" stop-color="#55576e"/></linearGradient>
<linearGradient id="lockC" x1="0" x2="1" y1="0" y2="0"><stop offset="0" stop-color="#8a8c94"/><stop offset="0.2" stop-color="#f4f4f6"/><stop offset="0.45" stop-color="#8f90a0"/><stop offset="0.8" stop-color="#a08fb8"/><stop offset="1" stop-color="#6a6a7c"/></linearGradient>
<linearGradient id="lensC" x1="0" x2="1" y1="0" y2="1"><stop offset="0" stop-color="#3a3844"/><stop offset="0.5" stop-color="#6d6a7c"/><stop offset="1" stop-color="#8c8a98"/></linearGradient>
<linearGradient id="clampC" x1="0" x2="1" y1="0" y2="0"><stop offset="0" stop-color="#9a9a9e"/><stop offset="0.5" stop-color="#6e6e73"/><stop offset="1" stop-color="#4a4a50"/></linearGradient>
<clipPath id="clipC"><rect x="0" y="900" width="1150" height="833"/></clipPath>
</defs>
<g id="panelC" clip-path="url(#clipC)">
<!-- locker disk & cylinder -->
<ellipse cx="558" cy="1715" rx="137" ry="72" fill="#5d6069"/>
<rect x="422.5" y="1646" width="40" height="90" fill="#5d6069"/>
<ellipse cx="545" cy="1722" rx="105" ry="55" fill="#44464d"/>
<rect x="460" y="1670" width="156" height="70" fill="url(#lockC)"/>
<!-- vertical rods -->
<rect x="871.5" y="1490" width="31" height="250" fill="url(#rodC)"/>
<rect x="955.7" y="1440" width="32.3" height="300" fill="url(#rodC)"/>
<!-- base plate -->
<polygon points="426.7,1621 540.3,1687 540.3,1713.5 426.7,1646" fill="#6b7080"/>
<polygon points="540.3,1687 1040,1393.5 1040,1416 540.3,1713.5" fill="#5e5a78"/>
<polygon points="426.7,1621 492.6,1584.4 1009,1355 1040,1393.5 540.3,1687" fill="#6a6d78"/>
<g fill="none" stroke="#3d3f4a" stroke-width="1.6"><ellipse cx="497" cy="1622" rx="9" ry="5.5"/><ellipse cx="580" cy="1672" rx="9" ry="5.5"/><ellipse cx="971" cy="1437" rx="7" ry="4.5"/></g>
<g fill="#585b6b"><ellipse cx="497" cy="1647" rx="13" ry="8"/><ellipse cx="583" cy="1647" rx="13" ry="8"/><ellipse cx="968" cy="1410" rx="12" ry="8"/></g>
<!-- tube -->
<path d="M499.6,1455 L499.6,1640 A38.6,14 0 0 0 576.8,1640 L576.8,1455 z" fill="url(#tubeC)"/>
<ellipse cx="538.2" cy="1455" rx="38.6" ry="21" fill="#cdd0ec"/>
<ellipse cx="538.5" cy="1456.5" rx="32" ry="16.5" fill="#4a4b64"/>
<path d="M507,1458 A32,16.5 0 0 0 570,1458 A32,13 0 0 1 507,1458 z" fill="#7d809c"/>
<!-- rail -->
<polygon points="579.6,1534 958.5,1306 1009,1334 1009,1374 593.7,1614 582.4,1598" fill="#2c2c31"/>
<polygon points="590,1605 1009,1362 1009,1374 593.7,1614" fill="#3d3748"/>
<polygon points="585,1590 1005,1348 1007,1354 588,1597" fill="#141416"/>
<g fill="#0e0e10"><ellipse cx="632" cy="1530" rx="17" ry="12"/><ellipse cx="913" cy="1362" rx="16" ry="11"/></g>
<g fill="#c9c9cf"><rect x="922" y="1318" width="22" height="4" transform="rotate(-30 922 1318)"/><rect x="930" y="1328" width="18" height="3" transform="rotate(-30 930 1328)"/></g>
<!-- slider -->
<polygon points="666.6,1435.6 739.6,1475 739.6,1522.6 652.6,1475" fill="#2a2b30"/>
<polygon points="739.6,1475 880,1396.3 880,1438.4 739.6,1522.6" fill="#222127"/>
<polygon points="666.6,1435.6 800,1372 880,1396.3 739.6,1475" fill="#34353a"/>
<g fill="none" stroke="#0f0f11" stroke-width="1.6"><ellipse cx="775" cy="1478" rx="10" ry="6.5"/><ellipse cx="845" cy="1436" rx="10" ry="6.5"/></g>
<circle cx="739" cy="1434" r="3" fill="#0c0c0d"/><circle cx="810" cy="1392" r="3" fill="#0c0c0d"/>
<!-- post -->
<rect x="759" y="1330" width="45" height="97" fill="#2b2b31"/>
<rect x="759" y="1330" width="6" height="97" fill="#4b4763"/>
<!-- small rear knob -->
<rect x="708.7" y="1112" width="36.5" height="30" fill="#2c2c33"/>
<ellipse cx="727" cy="1112" rx="18.3" ry="7" fill="#3a3a42"/><ellipse cx="727" cy="1113" rx="6" ry="3" fill="#0c0c0e"/>
<!-- knobs -->
<rect x="858" y="1150" width="22" height="17" fill="#8a8a92" transform="rotate(-25 858 1150)"/>
<rect x="858" y="1285" width="22" height="17" fill="#8a8a92" transform="rotate(-25 858 1285)"/>
<ellipse cx="888.5" cy="1152" rx="28" ry="34" fill="#17171a"/>
<ellipse cx="882" cy="1155" rx="19" ry="27" fill="#232327"/>
<ellipse cx="888.5" cy="1278" rx="28" ry="34" fill="#17171a"/>
<ellipse cx="882" cy="1281" rx="19" ry="27" fill="#232327"/>
<ellipse cx="866" cy="1166" rx="7" ry="9" fill="#77777f"/><ellipse cx="866" cy="1294" rx="7" ry="9" fill="#77777f"/>
<!-- mirror mount plates -->
<polygon points="773.3,1227.3 815.4,1197.9 815.4,1336.8 773.3,1362" fill="#3b3549"/>
<polygon points="773.3,1262 815.4,1232 815.4,1262 773.3,1294" fill="#453e56" opacity="0.7"/>
<polygon points="821,1202.1 863.1,1179.6 863.1,1320 821,1336.8" fill="#3a3448"/>
<rect x="815.4" y="1199" width="5.6" height="138" fill="#111113"/>
<polygon points="773.3,1224.5 794.3,1183.8 839.2,1157.2 863.1,1168.4 863.1,1179.6 821,1202.1 815.4,1197.9 777.5,1233" fill="#1b1b1e"/>
<path d="M797,1186 Q816,1196 816.5,1235 L816.5,1336" stroke="#a08a50" stroke-width="2" fill="none"/>
<circle cx="812" cy="1254" r="1.6" fill="#8a88a0"/><rect x="841" y="1258" width="4" height="9" fill="#55506a" transform="rotate(25 841 1258)"/>
<!-- U plate -->
<polygon points="617.5,1070.2 623.1,1070.2 623.1,1143 617.5,1140.3" fill="#4b4763"/>
<polygon points="764.9,1158.6 770.5,1158.6 770.5,1425 764.9,1422.7" fill="#4b4763"/>
<polygon points="538.9,1026.7 617.5,1070.2 617.5,1140.3 686.3,1178.5 686.3,1115 764.9,1158.6 764.9,1422.7 538.9,1297.5" fill="#2a2b2f"/>
<path d="M538.9,1026.7 L617.5,1070.2" stroke="#e8e6e0" stroke-width="3.5"/><path d="M686.3,1115 L764.9,1158.6" stroke="#e8e6e0" stroke-width="3.5"/><path d="M617.5,1140.3 L672,1170.5" stroke="#e8e6e0" stroke-width="3.5"/>
<path d="M538.9,1096.8 L762,1230" stroke="#c9c9cf" stroke-width="1.2"/>
<!-- cage plate -->
<polygon points="565.6,1233 600.7,1200.7 680.7,1245.6 683.5,1276.5" fill="#3b3c41"/>
<polygon points="565.6,1233 683.5,1276.5 686.3,1400 571.2,1343.8" fill="#2e2f33"/>
<polygon points="683.5,1276.5 690,1272 693,1396 686.3,1400" fill="#4b4763"/>
<ellipse cx="624.5" cy="1309" rx="40" ry="57" transform="rotate(-22 624.5 1309)" fill="#17171a"/>
<ellipse cx="625.5" cy="1311" rx="33" ry="49" transform="rotate(-22 625.5 1311)" fill="#2a2a2e"/>
<ellipse cx="627" cy="1314" rx="27" ry="42" transform="rotate(-22 627 1314)" fill="url(#lensC)"/>
<g fill="#f2f2f2"><ellipse cx="582.4" cy="1237.2" rx="8" ry="11" transform="rotate(-20 582.4 1237.2)"/><ellipse cx="666.6" cy="1283.5" rx="8" ry="11" transform="rotate(-20 666.6 1283.5)"/><ellipse cx="581" cy="1334" rx="7.5" ry="10" transform="rotate(-20 581 1334)"/><ellipse cx="665.2" cy="1390" rx="8" ry="11" transform="rotate(-20 665.2 1390)"/></g>
<ellipse cx="636" cy="1238" rx="6.5" ry="4" fill="#8a8a90"/>
<!-- clamps -->
<polygon points="588.4,1098 594,1093 602,1100 601.7,1108 577.6,1195.5 560.8,1236 545,1262 521,1250 531.9,1214.8 539.1,1200" fill="#8b8b8f"/><polygon points="588.4,1098 594,1093 598,1097 545,1215 531.9,1214.8 539.1,1200" fill="#77777c"/>
<circle cx="537" cy="1248" r="17" fill="#6d6d72"/><circle cx="536" cy="1249" r="12" fill="#55555a"/><circle cx="534" cy="1250" r="8" fill="#8a8a90"/><circle cx="533" cy="1251" r="3" fill="#c9c9cf"/>
<circle cx="565" cy="1224" r="7" fill="#4a4850"/>
<polygon points="665,1150 678,1152 694,1215 718,1325 738,1395 710,1404 693,1338 680,1240" fill="#7c7c81"/><polygon points="665,1150 671,1150 700,1330 693,1338 680,1240" fill="#5d5d62"/>
<circle cx="704.5" cy="1341" r="15" fill="#6a6a70"/><circle cx="702" cy="1345" r="8" fill="#9a9aa0"/><circle cx="701" cy="1346" r="3" fill="#d5d5da"/>
<circle cx="731" cy="1326" r="6.5" fill="#8f8f96"/>
<polygon points="700,1360 735,1350 738,1395 722,1410 706,1400" fill="#b5b5ba"/>
</g>

<!-- d -->
<defs>
<linearGradient id="penD" x1="0" x2="1" y1="0" y2="0"><stop offset="0" stop-color="#62656b"/><stop offset="0.12" stop-color="#4c4e54"/><stop offset="0.3" stop-color="#38383e"/><stop offset="0.6" stop-color="#2e2d33"/><stop offset="0.85" stop-color="#3b3544"/><stop offset="1" stop-color="#483f54"/></linearGradient>
<linearGradient id="penD2" x1="0" x2="1" y1="0" y2="0"><stop offset="0" stop-color="#4a4c52"/><stop offset="0.3" stop-color="#323238"/><stop offset="0.7" stop-color="#2a292f"/><stop offset="1" stop-color="#3a3442"/></linearGradient>
<linearGradient id="wedL" x1="0" x2="1" y1="0" y2="0"><stop offset="0" stop-color="#6d7078"/><stop offset="1" stop-color="#484a52"/></linearGradient>
<clipPath id="domeClip"><path d="M1465.8,1345 C1465.8,1340.8 1465.1,1329.5 1465.8,1320.1 C1466.5,1310.7 1466.5,1300.5 1469.8,1288.7 C1473.1,1276.9 1478.3,1261.9 1485.5,1249.4 C1492.7,1237.0 1501.2,1225.8 1513,1214 C1524.8,1202.2 1537.9,1188.4 1556.2,1178.6 C1574.5,1168.8 1600.1,1160.1 1623,1155 C1645.9,1149.9 1678.5,1149.2 1693.8,1148 C1709.1,1146.8 1700.6,1146.3 1715,1147.5 C1729.4,1148.7 1756.3,1149.8 1780.3,1155 C1804.3,1160.2 1838.0,1168.8 1858.9,1178.6 C1879.9,1188.4 1892.9,1202.2 1906,1214 C1919.1,1225.8 1929.0,1237.0 1937.5,1249.4 C1946.0,1261.9 1952.6,1276.9 1957.1,1288.7 C1961.5,1300.5 1963.0,1310.7 1964.2,1320.1 C1965.4,1329.5 1964.2,1340.8 1964.2,1345 L1964.2,1640 L1465.8,1640 z"/></clipPath>
</defs>
<g id="panelD">
<!-- pencil -->
<path d="M1261.4,1189 L1261.4,1524.5 L1300,1620 Q1304,1636.5 1317,1636.5 Q1331,1636.5 1335,1620 L1372.3,1524.5 L1372.3,1189 z" fill="url(#penD)"/>
<path d="M1261.4,1524.5 L1275,1548 L1359,1548 L1372.3,1524.5 L1335,1620 Q1331,1636.5 1317,1636.5 Q1304,1636.5 1300,1620 z" fill="url(#penD2)"/>
<path d="M1261.4,1167 A55.45,39.5 0 0 1 1372.3,1167 L1372.3,1213 A55.45,38.3 0 0 1 1261.4,1213 z" fill="#b5aeaa"/>
<rect x="1261.4" y="1166" width="110.9" height="47.2" fill="#34333a"/>
<!-- dome -->
<g clip-path="url(#domeClip)">
<rect x="1460" y="1140" width="510" height="500" fill="#b5aeaa"/>
<rect x="1460" y="1321.3" width="510" height="218.1" fill="#35343a"/>
<path d="M1460,1560 L1466,1560 Q1472,1605 1509,1639 L1460,1639 z" fill="url(#wedL)"/>
<path d="M1970,1560 L1964,1560 Q1958,1605 1919.8,1639 L1970,1639 z" fill="#3f3749"/>
</g>
<rect x="1780.3" y="1204.2" width="126.5" height="100.2" fill="#35343a"/>
<rect x="1842" y="1257.5" width="4.5" height="4" fill="#d9d9de"/>
<circle cx="1714.2" cy="1365.3" r="2" fill="#6a6a72"/>
</g>

<!-- e -->
<defs>
<clipPath id="clipE"><rect x="2136" y="1042.5" width="1004" height="669.5"/></clipPath>
<filter id="blurE" x="-2%" y="-2%" width="104%" height="104%"><feGaussianBlur stdDeviation="1.3"/></filter>
<filter id="blurE2" x="-5%" y="-5%" width="110%" height="110%"><feGaussianBlur stdDeviation="10"/></filter>
<linearGradient id="tblE" x1="2136" x2="3140" y1="0" y2="0" gradientUnits="userSpaceOnUse"><stop offset="0" stop-color="#7f8588"/><stop offset="0.2" stop-color="#a3a7a7"/><stop offset="0.45" stop-color="#bcbfbb"/><stop offset="0.75" stop-color="#cbcdc8"/><stop offset="1" stop-color="#c6c8c4"/></linearGradient>
<linearGradient id="postE" x1="0" x2="1" y1="0" y2="0"><stop offset="0" stop-color="#6c6c6c"/><stop offset="0.35" stop-color="#d2d2d2"/><stop offset="0.7" stop-color="#8c8c8c"/><stop offset="1" stop-color="#5a5a5a"/></linearGradient>
<pattern id="dotsR" width="21" height="20" patternUnits="userSpaceOnUse" patternTransform="translate(2640 1400) skewX(-8) rotate(1.5)"><circle cx="10" cy="10" r="2.3" fill="#54585a"/></pattern>
<pattern id="dotsL" width="20.5" height="17.5" patternUnits="userSpaceOnUse" patternTransform="translate(2136 1400) rotate(13) skewX(18)"><circle cx="10" cy="9" r="2.1" fill="#4a4e50"/></pattern>
<pattern id="dotsB" width="16" height="14" patternUnits="userSpaceOnUse" patternTransform="translate(2240 1440) rotate(8) skewX(20)"><circle cx="8" cy="7" r="1.9" fill="#93867b"/></pattern>
</defs>
<g id="panelE" clip-path="url(#clipE)"><g filter="url(#blurE)">
<rect x="2130" y="1036" width="1016" height="682" fill="#e5e7e0"/>
<!-- pillar -->
<polygon points="2969,1036 3121,1036 3000,1392 2890,1392 2912,1282" fill="#d3d7df"/>
<polygon points="2996,1036 3058,1036 2962,1392 2932,1392" fill="#eceef3"/>
<polygon points="3078,1036 3103,1036 2994,1392 2982,1392" fill="#e4e7ee"/>
<rect x="3112" y="1092" width="30" height="18" fill="#d5d9de"/>
<!-- table -->
<rect x="2130" y="1392" width="1016" height="326" fill="url(#tblE)"/>
<rect x="2640" y="1392" width="506" height="326" fill="url(#dotsR)"/>
<polygon points="2130,1480 2420,1480 2420,1718 2130,1718" fill="url(#dotsL)"/>
<!-- window -->
<polygon points="2130,1036 2843.5,1036 2820.4,1193 2130,1187" fill="#232628"/><polygon points="2130,1036 2262,1036 2262,1187 2130,1187" fill="#16181a"/>
<g filter="url(#blurE)">
<polygon points="2136,1160 2230,1150 2230,1180 2136,1181" fill="#3a3629"/>
<polygon points="2270,1060 2350,1050 2350,1160 2280,1170" fill="#383c3e"/>
<polygon points="2351,1092.5 2375.6,1053 2476,1052 2447,1095" fill="#66706f"/>
<polygon points="2375.6,1095 2447,1095 2469,1154 2400,1159" fill="#1b1d1f"/>
<polygon points="2469,1117 2498.5,1085 2579.5,1087.5 2562,1159 2479,1164" fill="#7d8482"/>
<polygon points="2513,1117 2572,1117 2562,1159 2513,1159" fill="#5a605f"/>
<circle cx="2533" cy="1137" r="12" fill="#34373a"/>
<polygon points="2351,1164 2434.6,1154 2437,1173.5 2351,1177" fill="#6a7577"/>
<polygon points="2582,1139 2650,1139 2650,1178 2582,1178" fill="#474c4e"/>
<path d="M2477,1150 C2470,1135 2480,1122 2492,1118 M2486,1144 C2482,1135 2488,1128 2495,1126" stroke="#ec9ee6" stroke-width="3" fill="none"/>
<path d="M2433,1148 L2443,1160" stroke="#e870c8" stroke-width="3"/>
<polygon points="2679,1051 2841,1046 2826.5,1173.5 2716,1181 2630,1154 2630,1085" fill="#373d3f"/>
<polygon points="2716,1105 2802,1105 2790,1154 2716,1154" fill="#6a7477"/>
<polygon points="2782,1068 2836,1068 2834,1087.5 2782,1087.5" fill="#b4bcc0"/>
<polygon points="2660,1140 2800,1140 2800,1165 2660,1165" fill="#59605f"/>
</g>
<rect x="2130" y="1178" width="700" height="10" fill="#0f1011" transform="rotate(0.5 2130 1178)"/>
<!-- TL quadrant -->
<g transform="translate(2130 1036) scale(0.24564)">
<polygon points="25,820 690,815 470,1080 25,1330" fill="#c2d1d9"/>
<path d="M25,880 C200,860 390,900 385,990 C380,1100 200,1200 25,1210 z" fill="#8fb3c6"/>
<polygon points="100,1080 230,1000 250,1020 120,1100" fill="#dfe6ea"/>
<polygon points="690,815 760,1090 560,1200 470,1080" fill="#7b939d"/>
<polygon points="25,1330 200,1340 190,1425 25,1425" fill="#6d8890"/>
<polygon points="470,1080 560,1200 330,1425 190,1425 200,1340" fill="#222527"/>
<polygon points="990,865 1520,880 1600,1150 1500,1250 760,1180" fill="#f4f4f2"/>
<rect x="1000" y="868" width="135" height="18" fill="#d9614f"/>
<polygon points="760,1090 830,1060 800,1190 760,1180" fill="#c9d3d8"/>
<line x1="1835" y1="858" x2="1420" y2="1055" stroke="#2b2b2f" stroke-width="96" stroke-linecap="round"/>
<line x1="1560" y1="985" x2="1330" y2="1095" stroke="#1d1d20" stroke-width="130"/>
<polygon points="1150,1000 1280,940 1420,1040 1560,980 1600,1100 1480,1200 1460,1300 1300,1330 1200,1425 330,1425 420,1250 600,1200 650,1160 760,1200 860,1100 1000,1060" fill="#141517"/>
<polygon points="1500,1250 1700,1140 1930,1270 1600,1425 1200,1425" fill="#1e1f21"/>
<polygon points="1690,1230 1790,1180 1800,1200 1700,1250" fill="#0a0a0b"/><polygon points="1780,1290 1880,1240 1890,1260 1790,1310" fill="#0a0a0b"/>
<line x1="760" y1="1215" x2="1000" y2="1140" stroke="#cfcac4" stroke-width="22"/>
<line x1="330" y1="1425" x2="560" y2="1340" stroke="#c9c4be" stroke-width="30"/>
<line x1="1180" y1="1110" x2="1290" y2="1060" stroke="#cfcac4" stroke-width="18"/>
<line x1="1560" y1="1425" x2="1700" y2="1330" stroke="#d8d8d8" stroke-width="26"/>
<line x1="900" y1="1300" x2="1050" y2="1240" stroke="#bdb8b2" stroke-width="20"/>
<line x1="1230" y1="1330" x2="1330" y2="1290" stroke="#bdb8b2" stroke-width="18"/>
<rect x="1985" y="555" width="140" height="355" fill="#a5bac8"/>
<rect x="2070" y="760" width="50" height="230" fill="#18191b"/>
</g>
<!-- TR quadrant -->
<g transform="translate(2630 1036) scale(0.24564)">
<rect x="0" y="555" width="75" height="360" fill="#a5bac8"/>
<rect x="205" y="555" width="130" height="360" fill="#a5bac8"/>
<rect x="205" y="820" width="130" height="95" fill="#8fa4b2"/>
<rect x="0" y="820" width="75" height="95" fill="#8fa4b2"/>
<g fill="#e4ecf0"><circle cx="240" cy="600" r="10"/><circle cx="280" cy="800" r="12"/><circle cx="280" cy="870" r="12"/><circle cx="20" cy="860" r="12"/></g>
<rect x="80" y="560" width="125" height="85" fill="#1c1d1f"/>
<polygon points="30,900 95,900 95,1240 20,1300" fill="#2a2b2d"/>
<polygon points="180,900 230,900 240,1250 180,1240" fill="#2a2b2d"/>
<rect x="95" y="650" width="85" height="590" fill="url(#postE)"/>
<rect x="95" y="680" width="85" height="40" fill="#7fb5c8"/>
<rect x="40" y="750" width="55" height="210" fill="#18191b"/>
<rect x="180" y="750" width="55" height="180" fill="#18191b"/>
<line x1="475" y1="882" x2="770" y2="1040" stroke="#2c2c30" stroke-width="86" stroke-linecap="round"/>
<polygon points="720,1060 800,980 900,1010 1000,1000 1080,950 1200,1040 1190,1100 1290,1130 1440,1170 1470,1260 1640,1330 1800,1300 2075,1425 860,1425 870,1330 790,1200" fill="#161719"/>
<polygon points="900,1010 1080,950 1200,1040 1020,1110" fill="#3a3b3e"/>
<circle cx="1085" cy="975" r="35" fill="#141516"/>
<ellipse cx="1070" cy="1060" rx="40" ry="14" fill="#b8923a"/>
<line x1="1150" y1="1100" x2="1230" y2="1130" stroke="#d0d0d0" stroke-width="16"/>
<line x1="1400" y1="1240" x2="1560" y2="1310" stroke="#c8c8c8" stroke-width="18"/>
<line x1="960" y1="1350" x2="1040" y2="1390" stroke="#c8c8c8" stroke-width="18"/>
<line x1="750" y1="1200" x2="830" y2="1235" stroke="#bdbdbd" stroke-width="20"/>
<line x1="790" y1="1010" x2="850" y2="1040" stroke="#d5d5d5" stroke-width="22"/>
<line x1="890" y1="975" x2="950" y2="1010" stroke="#c0c0c0" stroke-width="10"/>
<polygon points="1940,1425 2010,1290 2075,1300 2075,1425" fill="#b9c0c0"/>
</g>
<!-- BL quadrant -->
<g transform="translate(2130 1370) scale(0.24564)">
<polygon points="25,440 500,440 450,620 25,950" fill="#6b7175" opacity="0.55"/>
<polygon points="450,600 620,300 1300,330 1000,620" fill="#4e4139"/>
<polygon points="25,0 200,0 300,440 25,440" fill="#5f7b84"/>
<rect x="30" y="190" width="250" height="140" fill="#c5cdd0"/><rect x="25" y="55" width="170" height="30" fill="#cfd8d8"/>
<polygon points="25,440 420,430 420,500 25,500" fill="#34373a"/>
<polygon points="200,0 640,0 620,200 480,400 300,440" fill="#141517"/>
<polygon points="640,0 1200,0 1250,150 1330,310 1230,330 900,250 880,130 700,200 620,200" fill="#17181a"/>
<polygon points="690,300 780,300 790,380 700,390" fill="#2a2c2e"/>
<path d="M25,640 Q300,300 660,130" stroke="#aaa9a3" stroke-width="55" fill="none"/>
<line x1="320" y1="95" x2="560" y2="10" stroke="#d5cdc8" stroke-width="40" stroke-linecap="round"/>
<line x1="450" y1="200" x2="690" y2="90" stroke="#cfc8c0" stroke-width="45" stroke-linecap="round"/>
<line x1="520" y1="370" x2="740" y2="260" stroke="#c8c0ba" stroke-width="38" stroke-linecap="round"/>
<path d="M970,235 C1050,250 1100,270 1170,290" stroke="#4a78d0" stroke-width="12" fill="none"/>
<path d="M905,280 C960,500 850,760 500,940 S100,1100 25,1130" stroke="#dfe3df" stroke-width="11" fill="none"/>
<path d="M520,400 C500,600 250,800 25,980" stroke="#2a2c2e" stroke-width="9" fill="none"/>
<path d="M25,970 C300,1100 500,1180 760,1110 S980,980 1030,950" stroke="#1f2123" stroke-width="22" fill="none"/>
<path d="M25,1180 C200,1150 350,1200 330,1392" stroke="#1a1b1d" stroke-width="26" fill="none"/>
<path d="M100,1392 C150,1250 420,1150 470,1300 S400,1392 380,1392" stroke="#1a1b1d" stroke-width="22" fill="none"/>
<path d="M25,1080 C150,1060 300,1120 420,1160" stroke="#1c1d1f" stroke-width="18" fill="none"/>
<polygon points="25,1280 110,1300 130,1392 25,1392" fill="#d0d4d4"/>
<path d="M60,1020 C50,1150 70,1250 60,1290" stroke="#e4e8e8" stroke-width="8" fill="none"/>
<!-- left arm -->
<polygon points="1130,1392 1160,1200 1240,1260 2117,760 2117,1392" fill="#151618"/>
<polygon points="1560,1000 2117,720 2117,1100 1850,1060" fill="#222325"/>
<polygon points="1080,890 2117,380 2117,760 1240,1260" fill="#19191b"/>
<polygon points="1300,900 2000,560 2117,620 1330,1180" fill="#28292b"/>
<polygon points="1380,800 1440,690 1460,700 1400,830" fill="#d0d4d4"/>
<polygon points="900,690 1080,890 1240,1260 1190,1240 1060,1110" fill="#111214"/>
<polygon points="900,690 1330,450 1720,250 2117,430 2117,560 1080,890" fill="#1d1e20"/>
<line x1="1100" y1="880" x2="2000" y2="440" stroke="#4a4b4e" stroke-width="6"/>
<g fill="#c8c8c8"><circle cx="985" cy="700" r="12"/><circle cx="1090" cy="795" r="12"/><circle cx="1180" cy="720" r="12"/><rect x="1020" y="620" width="22" height="60" transform="rotate(-15 1020 620)"/><rect x="1105" y="690" width="22" height="60" transform="rotate(-15 1105 690)"/><circle cx="1330" cy="1160" r="16"/><circle cx="1240" cy="1220" r="16"/><circle cx="1940" cy="545" r="18"/><circle cx="2020" cy="600" r="18"/></g>
<polygon points="1330,310 1700,100 1740,400 1560,560 1350,520" fill="#101113"/>
<circle cx="1600" cy="270" r="42" fill="#c8c8c8"/><circle cx="1420" cy="350" r="26" fill="#b0b0b0"/>
<polygon points="1200,0 1900,0 1760,140 1740,400 1350,330 1250,150" fill="#17181a"/><polygon points="1425,-77 1689,-213 1801,-181 1929,-93 1713,51 1425,163" fill="#2b2d30"/><line x1="1330" y1="200" x2="1700" y2="30" stroke="#d8d8d8" stroke-width="32" stroke-linecap="round"/>
<polygon points="1200,0 1700,0 1700,20 1330,190 1250,150" fill="#1a1b1d"/>
<rect x="1720" y="140" width="72" height="160" rx="30" fill="#d5d9dc"/>
<line x1="1880" y1="405" x2="2020" y2="495" stroke="#e2e2e2" stroke-width="58" stroke-linecap="round"/>
<line x1="1780" y1="340" x2="1870" y2="420" stroke="#1a1a1c" stroke-width="30"/>
</g>
<!-- BR quadrant -->
<g transform="translate(2630 1370) scale(0.24564)">
<polygon points="960,180 1250,200 1560,500 1700,560 1900,640 1800,760 1500,760 1200,820 1000,560" fill="#585b5e" opacity="0.8"/>
<polygon points="1000,250 1200,240 1400,600 1100,650" fill="#3f4245" opacity="0.8"/>
<polygon points="700,290 860,280 850,420 690,400" fill="#34373a" opacity="0.8"/>
<polygon points="720,1392 1000,1000 1040,1392" fill="#3a3c3e"/>
<polygon points="250,200 520,300 640,300 1000,640 1090,640 1480,990 1250,1190 820,770 760,800 1000,1000 720,1392 420,1392 650,1100 480,800 0,480 0,380" fill="#18191b"/>
<polygon points="830,720 1090,640 1480,990 1250,1180" fill="#343538"/>
<g fill="#c8c4c0"><circle cx="745" cy="495" r="22"/><circle cx="650" cy="550" r="22"/><circle cx="845" cy="578" r="22"/><circle cx="750" cy="638" r="22"/><circle cx="795" cy="880" r="20"/><circle cx="875" cy="940" r="14"/><circle cx="1085" cy="825" r="10"/><circle cx="1160" cy="890" r="10"/><circle cx="1235" cy="945" r="10"/></g>
<line x1="500" y1="350" x2="880" y2="660" stroke="#0a0a0b" stroke-width="14"/>
<line x1="380" y1="410" x2="800" y2="740" stroke="#0a0a0b" stroke-width="12"/>
<polygon points="0,450 480,800 650,1100 420,1392 0,1392" fill="#131416"/>
<polygon points="0,820 500,830 540,900 0,900" fill="#222325"/>
<polygon points="0,1060 330,1060 260,1090 0,1090" fill="#28292b"/>
<g fill="#b0b0b0"><circle cx="75" cy="940" r="14"/><circle cx="245" cy="1015" r="14"/><circle cx="80" cy="1000" r="12"/><circle cx="80" cy="810" r="12"/><circle cx="290" cy="825" r="12"/></g>
<path d="M0,640 C100,700 200,700 300,640" stroke="#2c2d2f" stroke-width="30" fill="none"/>
<line x1="855" y1="760" x2="1250" y2="1155" stroke="#0e0e10" stroke-width="22"/>
<line x1="838" y1="772" x2="1233" y2="1167" stroke="#c4c4c4" stroke-width="12"/>
<line x1="1230" y1="200" x2="1000" y2="790" stroke="#8d9194" stroke-width="30"/>
<line x1="1560" y1="520" x2="1300" y2="1040" stroke="#8d9194" stroke-width="32"/>
<line x1="1222" y1="200" x2="992" y2="790" stroke="#c9cdd0" stroke-width="9"/>
<line x1="1551" y1="520" x2="1291" y2="1040" stroke="#c9cdd0" stroke-width="9"/>
<polygon points="850,0 2000,0 2010,100 1870,180 1760,420 1640,560 1560,520 1480,430 1350,250 1240,180 1100,240 1020,130" fill="#151618"/>
<polygon points="1800,150 1900,130 2000,330 1900,420 1830,280" fill="#35a860"/>
<polygon points="1690,400 1860,385 1870,450 1780,480 1760,560 1640,570 1660,540 1730,520 1740,460 1690,460" fill="#ece8dc"/>
<line x1="1500" y1="650" x2="2075" y2="640" stroke="#2a2c2e" stroke-width="16"/>
<line x1="1870" y1="180" x2="2075" y2="480" stroke="#202224" stroke-width="14"/>
<line x1="1240" y1="300" x2="1440" y2="480" stroke="#d8d8d8" stroke-width="20"/>
<path d="M1640,660 C1750,720 1900,700 2000,640" stroke="#c03a3a" stroke-width="6" fill="none"/>
<path d="M1950,180 C2000,250 2050,280 2075,300" stroke="#c03a3a" stroke-width="6" fill="none"/>
<ellipse cx="1830" cy="700" rx="200" ry="90" stroke="#c090b8" stroke-width="4" fill="none"/>
<path d="M930,1080 C1050,1210 1300,1260 1480,1100 S1560,850 1500,770" stroke="#3c62c4" stroke-width="10" fill="none"/>
<path d="M1480,985 C1700,990 1900,960 2075,915" stroke="#3c62c4" stroke-width="10" fill="none"/>
<path d="M700,380 C800,400 900,440 1000,470" stroke="#3c62c4" stroke-width="10" fill="none"/>
<path d="M2075,480 C2020,520 2020,600 2075,620" stroke="#3c62c4" stroke-width="10" fill="none"/>
<path d="M1000,200 C980,300 1020,420 1080,520" stroke="#3c62c4" stroke-width="9" fill="none"/>
<path d="M1200,560 C1300,600 1380,650 1420,700" stroke="#3c62c4" stroke-width="9" fill="none"/>
<path d="M1040,1270 C1250,1280 1450,1180 1520,1000" stroke="#3a3c3e" stroke-width="8" fill="none"/>
<rect x="420" y="1340" width="80" height="52" fill="#9a9c9c"/>
</g>
<!-- centre group -->
<g transform="translate(2480 1300) scale(0.19646)">
<polygon points="1130,500 1330,490 1340,600 1130,600" fill="#202224"/>
<polygon points="560,1425 700,1150 830,1000 700,870 1330,1425" fill="#17181a"/><path d="M700,1230 C820,1290 1000,1290 1120,1210" stroke="#0c0c0d" stroke-width="26" fill="none"/>
<g fill="#c8c8c8"><circle cx="640" cy="1040" r="22"/><circle cx="740" cy="1105" r="22"/><circle cx="555" cy="970" r="18"/><circle cx="600" cy="1355" r="16"/><circle cx="865" cy="1370" r="16"/><circle cx="1125" cy="1385" r="16"/></g>
<polygon points="1000,590 1400,610 1420,720 1564,731 2014,1157 1789,1319 2014,1607 1664,2097 1289,2097 1576,1732 1330,1425 700,870 660,800 1100,760" fill="#1b1c1e"/>
<polygon points="1100,640 1380,650 1400,740 1250,800 1120,780" fill="#2a2c2f"/>
<line x1="1380" y1="790" x2="1870" y2="1190" stroke="#08080a" stroke-width="22"/>
<line x1="1240" y1="860" x2="1750" y2="1290" stroke="#08080a" stroke-width="18"/>
<g fill="#cfcbc8"><circle cx="1695" cy="975" r="30"/><circle cx="1580" cy="1050" r="30"/><circle cx="1815" cy="1080" r="30"/><circle cx="1700" cy="1155" r="30"/></g>
<polygon points="1370,1180 1450,1090 1760,1330 1800,1500 1600,1700 1420,1500" fill="#0e0f10"/>
<ellipse cx="900" cy="770" rx="250" ry="150" fill="#1d1e20"/>
<ellipse cx="900" cy="770" rx="178" ry="102" fill="none" stroke="#3a3d42" stroke-width="12"/>
<ellipse cx="900" cy="775" rx="130" ry="80" fill="#d5d7d8"/>
<ellipse cx="895" cy="792" rx="88" ry="52" fill="#6a6560"/>
<rect x="830" y="540" width="120" height="260" fill="#55524f"/>
<rect x="855" y="540" width="35" height="260" fill="#8a8682"/>
<polygon points="930,430 1120,390 1120,600 930,640" fill="#151618"/>
<polygon points="380,480 470,760 500,790 520,760 430,470" fill="#151618"/>
<polygon points="720,230 1130,280 1120,400 930,480 500,790 470,760 380,480 560,390" fill="#37393d"/>
<polygon points="500,790 930,480 930,520 510,820" fill="#121314"/>
<rect x="810" y="0" width="230" height="250" fill="#2c2d2f"/>
<rect x="870" y="0" width="95" height="250" fill="#8a8886"/>
<rect x="890" y="0" width="30" height="250" fill="#5a5856"/>
<ellipse cx="915" cy="305" rx="125" ry="72" fill="#aeb3b8"/>
<ellipse cx="915" cy="292" rx="100" ry="52" fill="#4a4d52"/>
<ellipse cx="915" cy="330" rx="70" ry="26" fill="#7a7468"/>
<polygon points="790,240 1040,240 1050,275 780,275" fill="#1e1f21"/>
<line x1="575" y1="865" x2="745" y2="985" stroke="#e4e4e4" stroke-width="62" stroke-linecap="round"/>
<line x1="440" y1="790" x2="560" y2="880" stroke="#18181a" stroke-width="34"/>
<rect x="372" y="530" width="95" height="250" rx="42" fill="#d3d7da"/>
<rect x="372" y="640" width="95" height="140" rx="30" fill="#aab4ba"/>
</g>
</g></g>

<!-- text -->
<g fill="#231f20" font-size="55">
<text x="116" y="124" textLength="61">(a)</text>
<text x="1325" y="124" textLength="63">(b)</text>
<text x="93" y="984" textLength="61">(c)</text>
<text x="1185" y="984" textLength="63">(d)</text>
<text x="2053" y="986" textLength="61">(e)</text>
</g>
<g fill="#e0202a" font-size="55">
<text x="562" y="87" textLength="268">Center shaft</text>
<text x="377" y="332" textLength="176">Bearing</text>
<text x="890" y="379" textLength="291">Rotating arm</text>
<text x="25" y="519" textLength="474">Transmission module</text>
<text x="1013" y="641" textLength="313">Rotating table</text>
<text x="1508" y="380" textLength="126">Move</text>
<text x="1690" y="485" textLength="110">Pitch</text>
<text x="1244" y="533" textLength="126">Move</text>
<text x="2541" y="604" textLength="142">Rotate</text>
<text x="488" y="984" textLength="248">Fixed plate</text>
<text x="81" y="1141" textLength="370">Sample platform</text>
<text x="976" y="1217" textLength="257">Adjustment</text>
<text x="9" y="1296" textLength="557">Cage system and fixtures</text>
<text x="997" y="1602" textLength="130">Slider</text>
<text x="777" y="1706" textLength="199">Slide rail</text>
<text x="205" y="1706" textLength="156">Locker</text>
<text x="1797" y="1187" textLength="107">Hole</text>
</g>
<g stroke="#e0202a" fill="none" stroke-width="5" stroke-dasharray="16 10" marker-end="url(#ah)">
<path d="M699.5,180 L699.5,128"/>
<path d="M677,271.5 L568,298.5"/>
<path d="M742,278 L868,322.5"/>
<path d="M668,383.5 L566,343"/>
<path d="M739,413.5 L866,390.5"/>
<path d="M834,518 L987,591"/>
<path d="M774,702.5 L985,652"/>
<path d="M600.8,1087 L600.8,1035"/>
<path d="M540,1102 L478,1118.5"/>
<path d="M491,1697 L386,1697"/>
</g>
<g stroke="#e0202a" fill="none" stroke-width="2.6" stroke-dasharray="15 9" opacity="0.9">
<path d="M369,146.5 L254.5,146.5 L254.5,432"/>
<path d="M432,656.7 L252.6,656.7 L252.6,586"/>
<path d="M569,1165.5 L424,1234"/>
<path d="M849,1234.8 L934,1204.5"/>
<path d="M806,1471.7 L953,1568"/>
<path d="M673,1529.5 L766,1654"/>
</g>
<g fill="#e0202a">
<path d="M254.5,452 L244,428 L265,428 z"/>
<path d="M252.6,566 L242,590 L263,590 z"/>
<path d="M410,1240.6 L428,1222 L436,1240 z"/>
<path d="M948,1200 L926,1198 L933,1215 z"/>
<path d="M965,1576 L941,1571 L955,1554 z"/>
<path d="M774,1666 L755,1650 L775,1640 z"/>
</g>
<!-- hole box & arrow -->
<rect x="1780.3" y="1204.2" width="126.5" height="100.2" fill="none" stroke="#e0202a" stroke-width="4"/>
<circle cx="1714.2" cy="1365.3" r="7.5" fill="none" stroke="#e0202a" stroke-width="2"/>
<path d="M1719.5,1359.5 L1756,1318.5" stroke="#e0202a" stroke-width="3.5" fill="none"/>
<path d="M1769.5,1303.5 L1749,1313 L1761.5,1324 z" fill="#e0202a"/>


</svg>
</body></html>
